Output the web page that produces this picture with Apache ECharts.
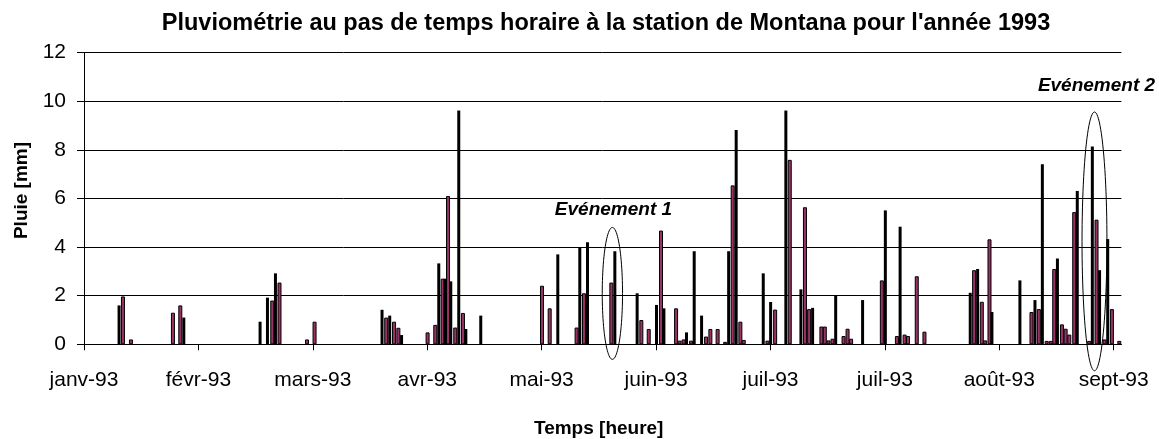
<!DOCTYPE html>
<html>
<head>
<meta charset="utf-8">
<script src="https://cdn.jsdelivr.net/npm/echarts@6/dist/echarts.min.js"></script>
<style>
html,body{margin:0;padding:0;background:#fff;}
#chart{width:1159px;height:439px;}
</style>
</head>
<body>
<div id="chart"></div>
<script>
// ---- data ----
const tickLabels = ['janv-93','févr-93','mars-93','avr-93','mai-93','juin-93','juil-93','juil-93','août-93','sept-93'];
const tickHours = [0,744,1488,2232,2976,3720,4464,5208,5952,6696];
const hourMax = 6746;

// [hour index, rain mm] - wider plum bars
const pluieLarge = [[250,1.97],[302,0.2],[575,1.3],[623,1.6],[1221,1.8],[1268,2.54],[1447,0.2],[1496,0.93],
 [1962,1.1],[2013,0.93],[2041,0.68],[2231,0.49],[2281,0.8],[2329,2.7],[2364,6.1],[2411,0.69],[2461,1.29],
 [2975,2.41],[3025,1.48],[3200,0.69],[3248,2.1],[3426,2.54],[3621,1.0],[3669,0.63],[3749,4.68],[3847,1.48],
 [3870,0.15],[3896,0.2],[3944,0.15],[4042,0.32],[4070,0.63],[4117,0.63],[4166,0.1],[4215,6.54],[4265,0.93],
 [4287,0.18],[4441,0.15],[4491,1.43],[4586,7.59],[4685,5.64],[4712,1.45],[4792,0.73],[4814,0.73],[4838,0.16],
 [4864,0.23],[4936,0.34],[4962,0.64],[4985,0.23],[5185,2.63],[5283,0.34],[5333,0.4],[5355,0.34],[5412,2.8],
 [5462,0.52],[5785,3.05],[5835,1.75],[5857,0.16],[5885,4.32],[6158,1.33],[6206,1.45],[6257,0.14],[6284,0.14],
 [6306,3.1],[6356,0.82],[6380,0.64],[6404,0.4],[6436,5.44],[6533,0.14],[6581,5.13],[6633,0.2],[6681,1.45],[6729,0.14]];

// [hour index, rain mm] - thin dark bars
const pluieFine = [[228,1.6],[649,1.1],[1145,0.93],[1193,1.92],[1245,2.92],[1938,1.42],[1988,1.18],[2065,0.38],
 [2307,3.33],[2348,2.7],[2385,2.59],[2437,9.62],[2483,0.63],[2580,1.18],[3081,3.7],[3224,4.0],[3274,4.2],
 [3452,3.83],[3597,2.1],[3723,1.62],[3771,1.48],[3918,0.49],[3968,3.83],[4016,1.18],[4192,3.83],[4241,8.82],
 [4417,2.92],[4465,1.74],[4564,9.62],[4662,2.26],[4738,1.5],[4888,2.0],[5063,1.82],[5211,5.51],[5307,4.84],
 [5763,2.12],[5811,3.1],[5904,1.33],[6086,2.63],[6184,1.82],[6232,7.41],[6330,3.53],[6459,6.31],[6557,8.14],
 [6604,3.05],[6657,4.33]];

const eventNames = ['Evénement 1','Evénement 2'];

// ---- chart ----
const FONT = '"Liberation Sans", Arial, sans-serif';
const chart = echarts.init(document.getElementById('chart'), null, {renderer:'canvas'});

const option = {
  animation:false,
  backgroundColor:'#fff',
  title:{
    text:"Pluviométrie au pas de temps horaire à la station de Montana pour l'année 1993",
    left:606, top:12, padding:0, textAlign:'center',
    textStyle:{fontFamily:FONT, fontSize:23.5, fontWeight:'bold', color:'#000'}
  },
  grid:{left:84, right:37.6, top:52.7, bottom:94.7, containLabel:false, outerBoundsMode:'none'},
  xAxis:{
    type:'value', min:0, max:hourMax,
    name:'Temps [heure]', nameLocation:'middle', nameGap:75,
    nameTextStyle:{fontFamily:FONT, fontSize:19, fontWeight:'bold', color:'#000', padding:[0,8,0,0]},
    axisLine:{show:true, lineStyle:{color:'#000', width:1}},
    axisTick:{show:true, length:6, lineStyle:{color:'#000'}, customValues:tickHours},
    axisLabel:{fontFamily:FONT, fontSize:21, color:'#000', margin:25, customValues:tickHours,
      formatter:function(v){const i=tickHours.indexOf(v); return i>=0?tickLabels[i]:'';}},
    splitLine:{show:false}
  },
  yAxis:{
    type:'value', min:0, max:12, interval:2,
    name:'Pluie [mm]', nameLocation:'middle', nameGap:52,
    nameTextStyle:{fontFamily:FONT, fontSize:19, fontWeight:'bold', color:'#000', padding:[0,0,0,16]},
    axisLine:{show:true, lineStyle:{color:'#000', width:1}},
    axisTick:{show:true, length:7, lineStyle:{color:'#000'}},
    axisLabel:{fontFamily:FONT, fontSize:21, color:'#000', margin:18},
    splitLine:{show:true, lineStyle:{color:'#000', width:1}}
  },
  series:[
    {type:'bar', name:'Pluie', data:pluieLarge, barWidth:4, barGap:'-100%',
     itemStyle:{color:'#993366', borderColor:'#000', borderWidth:1}},
    {type:'bar', name:'Pluie horaire', data:pluieFine, barWidth:3, barGap:'-100%',
     itemStyle:{color:'#000'}}
  ]
};
chart.setOption(option);

// annotation ellipses and labels, located in data coordinates
const ann = [
  {hour:3436, halfSpan:66, lo:-0.62, hi:4.81, labelHour:3443, labelMm:5.55},
  {hour:6571, halfSpan:81, lo:-1.09, hi:9.56, labelHour:6584, labelMm:10.62}
];
const graphics = [];
ann.forEach(function(a, k){
  const c = chart.convertToPixel({gridIndex:0}, [a.hour, (a.lo+a.hi)/2]);
  const l = chart.convertToPixel({gridIndex:0}, [a.hour - a.halfSpan, a.hi]);
  const b = chart.convertToPixel({gridIndex:0}, [a.hour, a.lo]);
  const rx = c[0]-l[0], ry = b[1]-c[1];
  const pts = [];
  for (let i=0;i<96;i++){ const t=i/96*2*Math.PI; pts.push([c[0]+rx*Math.cos(t), c[1]+ry*Math.sin(t)]); }
  graphics.push({type:'polygon', z:50, shape:{points:pts}, style:{fill:'none', stroke:'#000', lineWidth:1}});
  const p = chart.convertToPixel({gridIndex:0}, [a.labelHour, a.labelMm]);
  graphics.push({type:'text', z:50, x:p[0], y:p[1],
    style:{text:eventNames[k], font:'italic bold 19px '+FONT, fill:'#000', textAlign:'center', textVerticalAlign:'middle'}});
});
chart.setOption({graphic:graphics});
</script>
</body>
</html>
